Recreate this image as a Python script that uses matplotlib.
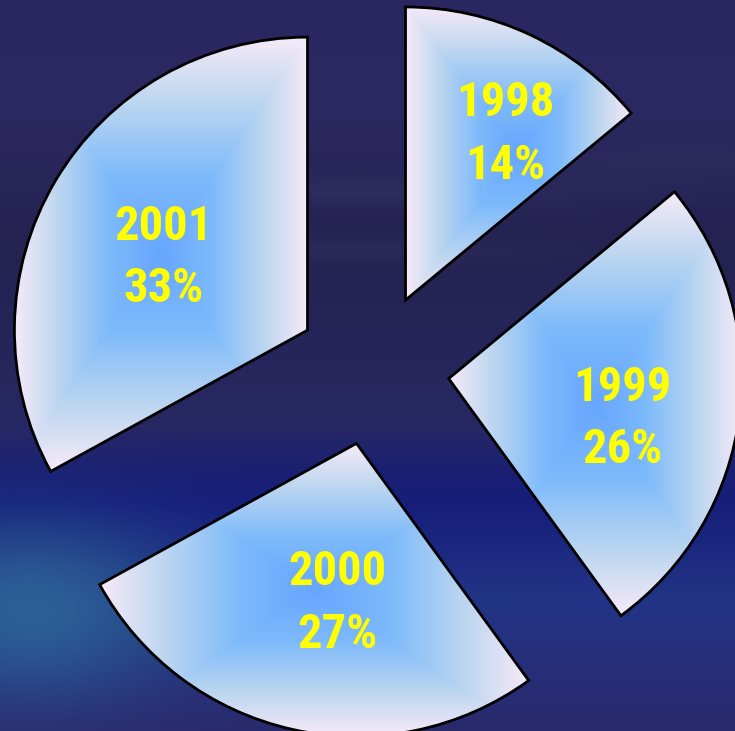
import numpy as np
import matplotlib
matplotlib.use("Agg")
import matplotlib.pyplot as plt
from matplotlib.colors import LinearSegmentedColormap
from matplotlib import font_manager

# ---- data ----
years = ["1998", "1999", "2000", "2001"]
shares = [14, 26, 27, 33]

# ---- style ----
W, H, DPI = 735, 731, 100
explode_amt = 0.26
label_dist = [0.66, 0.61, 0.55, 0.55]
label_shift = [-6, -6, 6, 4]

avail = {f.name for f in font_manager.fontManager.ttflist}
fam = [f for f in ["Roboto Condensed", "PT Sans Narrow", "Liberation Sans", "DejaVu Sans"] if f in avail]

fig = plt.figure(figsize=(W / DPI, H / DPI), dpi=DPI)
ax = fig.add_axes([0, 0, 1, 1])
xlim = (-1.273, 1.235)
ylim = (-1.235, 1.259)

# background (decorative)
yy, xx = np.mgrid[0:H, 0:W].astype(float)
stops_y = [0, 100, 250, 420, 470, 500, 600, 731]
stops_c = np.array([[0x2a, 0x27, 0x60], [0x2c, 0x28, 0x62], [0x24, 0x22, 0x50],
                    [0x28, 0x28, 0x62], [0x1a, 0x20, 0x72], [0x16, 0x1e, 0x7a],
                    [0x22, 0x34, 0x86], [0x2a, 0x2a, 0x6c]]) / 255.0
bg = np.zeros((H, W, 3))
for c in range(3):
    bg[..., c] = np.interp(yy, stops_y, stops_c[:, c])
def blend(img, cx, cy, sx, sy, col, a=1.0):
    m = a * np.exp(-(((xx - cx) / sx) ** 2 + ((yy - cy) / sy) ** 2))
    col = np.array(col) / 255.0
    return img * (1 - m[..., None]) + col * m[..., None]
bg = blend(bg, 30, 610, 140, 85, (0x2c, 0x60, 0x96))
bg = blend(bg, 360, 190, 240, 14, (0x3a, 0x3c, 0x6c), 0.35)
bg = blend(bg, 360, 250, 200, 12, (0x38, 0x3a, 0x6a), 0.3)
bg = blend(bg, 680, 160, 120, 18, (0x36, 0x34, 0x64), 0.3)
ax.imshow(bg, extent=[xlim[0], xlim[1], ylim[0], ylim[1]], origin="upper",
          aspect="auto", zorder=0, interpolation="bilinear")

wedges, _ = ax.pie(shares, startangle=90, counterclock=False,
                   explode=[explode_amt] * len(shares), radius=1.0,
                   wedgeprops=dict(facecolor="none", edgecolor="black", linewidth=2.0, zorder=3))

cmap = LinearSegmentedColormap.from_list(
    "g", [(0.0, "#66a6ff"), (0.35, "#7dbafb"), (0.7, "#bcd6f0"), (1.0, "#f6eaf8")])

for w in wedges:
    ext = w.get_path().get_extents()
    x0, y0, x1, y1 = ext.x0, ext.y0, ext.x1, ext.y1
    n = 300
    gy, gx = np.mgrid[0:n, 0:n] / (n - 1)
    d = np.maximum(np.abs(gx - 0.5), np.abs(gy - 0.5)) * 2
    im = ax.imshow(d, cmap=cmap, vmin=0, vmax=1, extent=[x0, x1, y0, y1],
                   origin="lower", aspect="auto", zorder=2, interpolation="bilinear")
    im.set_clip_path(w)

for i, w in enumerate(wedges):
    mid = np.deg2rad((w.theta1 + w.theta2) / 2 + label_shift[i])
    cx, cy = w.center
    r = w.r * label_dist[i]
    ax.text(cx + r * np.cos(mid), cy + r * np.sin(mid), f"{years[i]}\n{shares[i]}%",
            ha="center", va="center", color="#ffff00", fontsize=35, fontweight="bold",
            family=fam, linespacing=1.45, zorder=5)

ax.set_xlim(*xlim)
ax.set_ylim(*ylim)
ax.set_aspect("auto")
ax.axis("off")
fig.savefig("out.png", dpi=DPI)
